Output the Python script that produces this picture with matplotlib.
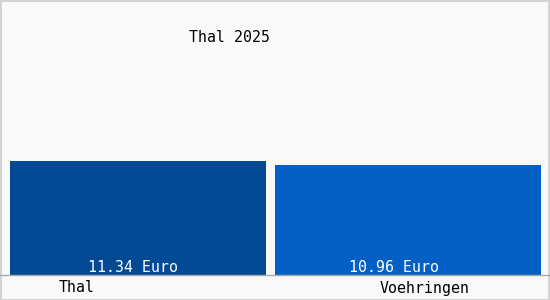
import matplotlib
matplotlib.use("Agg")
import matplotlib.pyplot as plt
from matplotlib.patches import Rectangle

categories = ["Thal", "Voehringen"]
values = [11.34, 10.96]
value_labels = ["11.34 Euro", "10.96 Euro"]
title = "Thal 2025"
colors = ["#034a94", "#0560c5"]

W, H = 550, 300
fig = plt.figure(figsize=(5.5, 3.0), dpi=100)
fig.patch.set_facecolor("#f9f9f9")

base_px = 275
ax = fig.add_axes([0, (H - base_px) / H, 1, base_px / H])
ax.set_facecolor("none")
# 1 unit in x = 270 px, bar 0 centered at px 138
ax.set_xlim(-138 / 270, (W - 138) / 270)
ax.set_ylim(0, base_px / 10.05)
ax.axis("off")

pos = [0, 1]
widths = [256 / 270, 266 / 270]
ax.bar(pos, values, width=widths, color=colors, linewidth=0)

font = dict(family="DejaVu Sans Mono", fontsize=10.7)
val_x = [(133.5 - 138) / 270, (394.5 - 138) / 270]
for x, lab in zip(val_x, value_labels):
    ax.text(x, 0, lab, ha="center", va="bottom", color="white",
            transform=ax.get_xaxis_transform(), **font)
    
# category labels below baseline
cat_px = [77, 424.5]
for px, lab in zip(cat_px, categories):
    fig.text(px / W, 1 - 288 / H, lab, ha="center", va="center", color="black", **font)

fig.text(230 / W, 1 - 38 / H, title, ha="center", va="center", color="black", **font)

# baseline
fig.add_artist(plt.Line2D([0, 1], [(H - base_px) / H] * 2, color="#a8a8a8", lw=1.0))
# border
fig.add_artist(Rectangle((0.5 / W, 0.5 / H), 1 - 1.5 / W, 1 - 1.5 / H, transform=fig.transFigure,
                         fill=False, edgecolor="#d4d4d4", lw=1.5))

fig.savefig("out.png", dpi=100, facecolor=fig.get_facecolor())
